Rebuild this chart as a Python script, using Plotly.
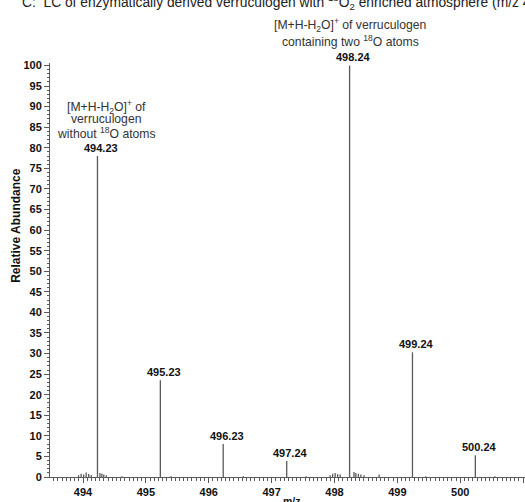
import plotly.graph_objects as go

# Main labelled peaks
peak_mz = [494.23, 495.23, 496.23, 497.24, 498.24, 499.24, 500.24]
peak_int = [78.0, 23.5, 8.0, 3.9, 100.0, 30.3, 5.3]
peak_labels = ["494.23", "495.23", "496.23", "497.24", "498.24", "499.24", "500.24"]

# Small background noise peaks
noise_mz = [493.93, 493.97, 494.01, 494.05, 494.09, 494.13, 494.27, 494.30, 494.33, 494.37,
            494.62, 495.40, 496.55, 497.55, 497.93, 497.97, 498.01, 498.05, 498.09,
            498.31, 498.34, 498.38, 498.42, 498.47, 498.71, 499.45, 500.55]
noise_int = [0.4, 0.8, 0.6, 1.1, 0.7, 0.5, 1.0, 0.8, 0.6, 0.4,
             0.2, 0.2, 0.2, 0.2, 0.4, 0.8, 1.0, 0.7, 0.6,
             1.2, 1.0, 0.8, 0.6, 0.4, 0.6, 0.2, 0.2]

x_ticks = [494, 495, 496, 497, 498, 499, 500, 501]
y_ticks = list(range(0, 101, 5))

all_mz = noise_mz + peak_mz
all_int = noise_int + peak_int
xs, ys = [], []
for m, v in zip(all_mz, all_int):
    xs += [m, m, None]
    ys += [0, v, None]

FONT = "Liberation Sans, Arial, sans-serif"
LINE = "#5a5a5a"

fig = go.Figure()
fig.add_trace(go.Scatter(x=xs, y=ys, mode="lines",
                         line=dict(color=LINE, width=1.3),
                         hoverinfo="skip", showlegend=False))

for m, v, t in zip(peak_mz, peak_int, peak_labels):
    fig.add_annotation(x=m, y=v, xref="x", yref="y", text=t, showarrow=False,
                       xanchor="center", yanchor="bottom", xshift=4, yshift=0,
                       font=dict(family=FONT, size=11, color="#111", weight="bold"))

note_font = dict(family=FONT, size=12.2, color="#333")
# right description (two 18O atoms)
fig.add_annotation(x=498.25, y=1, xref="x", yref="paper", yshift=38, showarrow=False,
                   text="[M+H-H<sub>2</sub>O]<sup>+</sup> of verruculogen",
                   font=note_font, xanchor="center", yanchor="middle")
fig.add_annotation(x=498.25, y=1, xref="x", yref="paper", yshift=22, showarrow=False,
                   text="containing two <sup>18</sup>O atoms",
                   font=note_font, xanchor="center", yanchor="middle")
# left description (no 18O atoms)
fig.add_annotation(x=494.37, y=0.894, xref="x", yref="paper", showarrow=False,
                   text="[M+H-H<sub>2</sub>O]<sup>+</sup> of",
                   font=note_font, xanchor="center", yanchor="middle")
fig.add_annotation(x=494.37, y=0.864, xref="x", yref="paper", showarrow=False,
                   text="verruculogen",
                   font=note_font, xanchor="center", yanchor="middle")
fig.add_annotation(x=494.37, y=0.831, xref="x", yref="paper", showarrow=False,
                   text="without <sup>18</sup>O atoms",
                   font=note_font, xanchor="center", yanchor="middle")

# Title (cropped at the top in the reference)
fig.add_annotation(x=-0.063, y=1, xref="paper", yref="paper", yshift=61,
                   text="C:  LC of enzymatically derived verruculogen with <sup>18</sup>O<sub>2</sub> enriched atmosphere (m/z 492-502)",
                   showarrow=False, xanchor="left", yanchor="middle",
                   font=dict(family=FONT, size=13.8, color="#222"))
# axis titles
fig.add_annotation(x=-0.0716, y=0.609, xref="paper", yref="paper", text="Relative Abundance",
                   textangle=-90, showarrow=False, xanchor="center", yanchor="middle",
                   font=dict(family=FONT, size=12, color="#111", weight="bold"))
fig.add_annotation(x=0.51, y=0, xref="paper", yref="paper", yshift=-24, text="m/z",
                   showarrow=False, xanchor="center", yanchor="middle",
                   font=dict(family=FONT, size=10.5, color="#111", weight="bold"))

fig.update_layout(
    width=525, height=502,
    margin=dict(l=50, r=0, t=63, b=25),
    paper_bgcolor="white", plot_bgcolor="white",
    xaxis=dict(range=[493.475, 501.03], tickvals=x_ticks, ticktext=[str(v) for v in x_ticks],
               showgrid=False, zeroline=False, showline=True, linecolor=LINE, linewidth=1,
               ticks="outside", ticklen=5, tickcolor=LINE, tickwidth=1,
               tickfont=dict(family=FONT, size=11, color="#111", weight="bold"),
               minor=dict(dtick=1/15, tick0=494, ticks="outside", ticklen=2.5,
                          tickcolor=LINE, tickwidth=1, showgrid=False)),
    yaxis=dict(range=[0, 100.6], tickvals=y_ticks, ticktext=[str(v) for v in y_ticks],
               showgrid=False, zeroline=False, showline=True, linecolor=LINE, linewidth=1,
               ticks="outside", ticklen=5, tickcolor=LINE, tickwidth=1,
               tickfont=dict(family=FONT, size=11, color="#111", weight="bold"),
               minor=dict(dtick=1, ticks="outside", ticklen=2.5,
                          tickcolor=LINE, tickwidth=1, showgrid=False)),
)

fig.write_html("out.html", config={"displayModeBar": False},
               post_script="document.body.style.margin='0';document.body.style.overflow='hidden';")
